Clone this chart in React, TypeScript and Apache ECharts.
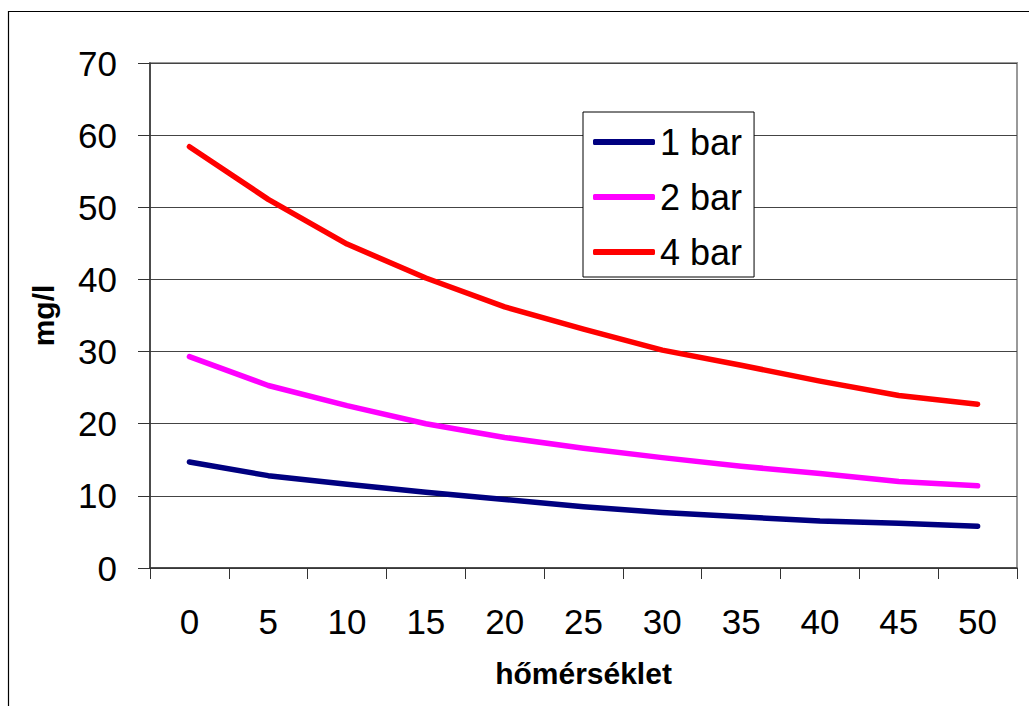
import React, { useEffect, useRef } from "react";
import * as echarts from "echarts";

const categories = ["0", "5", "10", "15", "20", "25", "30", "35", "40", "45", "50"];
const bar1 = [14.7, 12.8, 11.6, 10.5, 9.5, 8.5, 7.7, 7.1, 6.5, 6.2, 5.8];
const bar2 = [29.3, 25.3, 22.5, 20.0, 18.1, 16.6, 15.3, 14.1, 13.1, 12.0, 11.4];
const bar4 = [58.4, 51.1, 44.9, 40.2, 36.2, 33.1, 30.2, 28.1, 25.9, 23.9, 22.7];
const seriesNames = ["1 bar", "2 bar", "4 bar"];
const seriesColors = ["#000080", "#FF00FF", "#FF0000"];
const yTicks = { min: 0, max: 70, interval: 10 };
const xTitle = "hőmérséklet";
const yTitle = "mg/l";

const FONT = "'Liberation Sans', Arial, sans-serif";

export default function App() {
  const ref = useRef<HTMLDivElement>(null);
  useEffect(() => {
    if (!ref.current) return;
    const chart = echarts.init(ref.current, undefined, { renderer: "svg" });
    const data = [bar1, bar2, bar4];
    chart.setOption({
      animation: false,
      backgroundColor: "#ffffff",
      textStyle: { fontFamily: FONT },
      graphic: [
        {
          type: "rect",
          shape: { x: 8.5, y: 11.5, width: 1200, height: 900 },
          style: { fill: "none", stroke: "#000", lineWidth: 1.2 },
          z: 100,
          silent: true,
        },
      ],
      grid: {
        left: 150,
        top: 63,
        right: 12,
        bottom: 138,
        show: true,
        borderColor: "#999",
        borderWidth: 2,
        backgroundColor: "#fff",
      },
      legend: {
        orient: "vertical",
        left: 583,
        top: 112,
        data: seriesNames,
        icon: "roundRect",
        itemWidth: 62,
        itemHeight: 6,
        itemGap: 15,
        padding: [10, 12, 5, 10],
        backgroundColor: "#fff",
        borderColor: "#000",
        borderWidth: 1,
        textStyle: { fontSize: 36, color: "#000", fontFamily: FONT, lineHeight: 40 },
      },
      xAxis: {
        type: "category",
        data: categories,
        boundaryGap: true,
        name: xTitle,
        nameLocation: "middle",
        nameGap: 90,
        nameTextStyle: { fontSize: 30, fontWeight: "bold", color: "#000", fontFamily: FONT },
        axisLine: { lineStyle: { color: "#333", width: 1.5 } },
        axisTick: { show: true, length: 11, inside: false, lineStyle: { color: "#333", width: 1 } },
        axisLabel: { fontSize: 35, color: "#000", margin: 36, fontFamily: FONT },
        splitLine: { show: false },
      },
      yAxis: {
        type: "value",
        min: yTicks.min,
        max: yTicks.max,
        interval: yTicks.interval,
        name: yTitle,
        nameLocation: "middle",
        nameGap: 92,
        nameRotate: 90,
        nameTextStyle: { fontSize: 30, fontWeight: "bold", color: "#000", fontFamily: FONT },
        axisLine: { show: true, lineStyle: { color: "#333", width: 1.5 } },
        axisTick: { show: true, length: 12, lineStyle: { color: "#333", width: 1 } },
        axisLabel: { fontSize: 35, color: "#000", margin: 33, fontFamily: FONT },
        splitLine: { show: true, lineStyle: { color: "#444", width: 1 } },
      },
      series: seriesNames.map((name, i) => ({
        name,
        type: "line",
        data: data[i],
        symbol: "none",
        smooth: false,
        itemStyle: { color: seriesColors[i] },
        lineStyle: { color: seriesColors[i], width: 5.5, cap: "round", join: "round" },
        z: 3 + i,
      })),
    });
    return () => chart.dispose();
  }, []);
  return (
    <div
      ref={ref}
      style={{ position: "fixed", left: 0, top: 0, width: 1029, height: 706 }}
    />
  );
}
